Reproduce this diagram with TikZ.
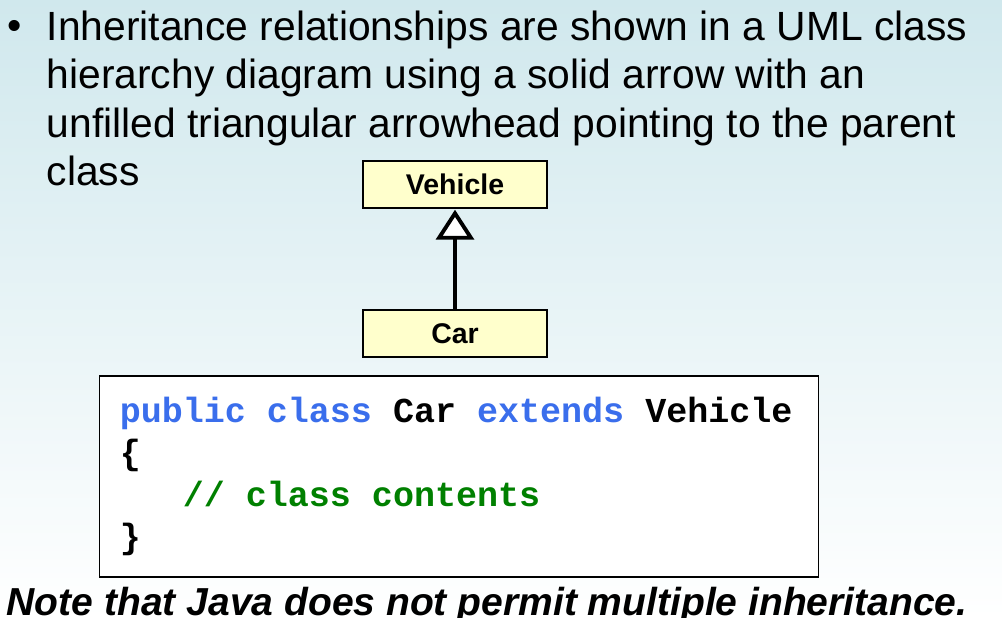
\documentclass[tikz,border=0pt]{standalone}
\usepackage{fontspec}
\setmainfont{Liberation Sans}
\setmonofont{Liberation Mono}
\usepackage{xcolor}
\usetikzlibrary{arrows.meta, positioning}

\definecolor{bgtop}{RGB}{208,232,237}
\definecolor{umlyellow}{RGB}{255,255,204}
\definecolor{kwblue}{RGB}{58,110,236}
\definecolor{cmtgreen}{RGB}{0,128,0}
\newcommand{\codesp}{\hspace*{0.6em}}

\begin{document}
\begin{tikzpicture}[x=0.01cm, y=-0.01cm,
    umlclass/.style={rectangle, draw, fill=umlyellow, line width=0.4pt, minimum width=1.84cm, minimum height=0.47cm, inner sep=0pt, font=\fontsize{8.1}{9}\selectfont\bfseries},
    codebox/.style={rectangle, draw, fill=white, line width=0.4pt, text width=6.78cm, inner xsep=0.2cm, minimum height=2.01cm, align=left, font=\fontsize{9.96}{11.95}\selectfont\ttfamily\bfseries},
    inherit/.style={line width=1.1pt, -{Triangle[fill=white, length=0.30cm, width=0.38cm]}, shorten >=0.01cm}]

    % Background
    \useasboundingbox (0,0) rectangle (1002,618);
    \shade [top color=bgtop, bottom color=white] (0,0) rectangle (1002,618);

    % Bullet text
    \node [anchor=base west, inner sep=0pt, font=\fontsize{11.6}{13.8}\selectfont] (bullet) at (7,40) {•};
    \node [anchor=north west, inner sep=0pt, align=left, font=\fontsize{11.6}{13.8}\selectfont] (intro) at (46,10)
        {Inheritance relationships are shown in a UML class\\
         hierarchy diagram using a solid arrow with an\\
         unfilled triangular arrowhead pointing to the parent\\
         class};

    % Classes
    \node [umlclass] (vehicle) at (455,184.5) {Vehicle};
    \node [umlclass] (car) at (455,333.5) {Car};
    \draw [inherit] (car) -- (vehicle);

    % Java code
    \node [codebox] (code) at (459,476.5)
        {\textcolor{kwblue}{public\codesp class}\codesp Car\codesp\textcolor{kwblue}{extends}\codesp Vehicle\\
         \{\\
         \codesp\codesp\codesp\textcolor{cmtgreen}{//\codesp class\codesp contents}\\
         \}};

    % Note
    \node [anchor=base west, inner sep=0pt, font=\fontsize{11.1}{13}\selectfont\bfseries\itshape] (note) at (6,615)
        {Note that Java does not permit multiple inheritance.};
\end{tikzpicture}
\end{document}
